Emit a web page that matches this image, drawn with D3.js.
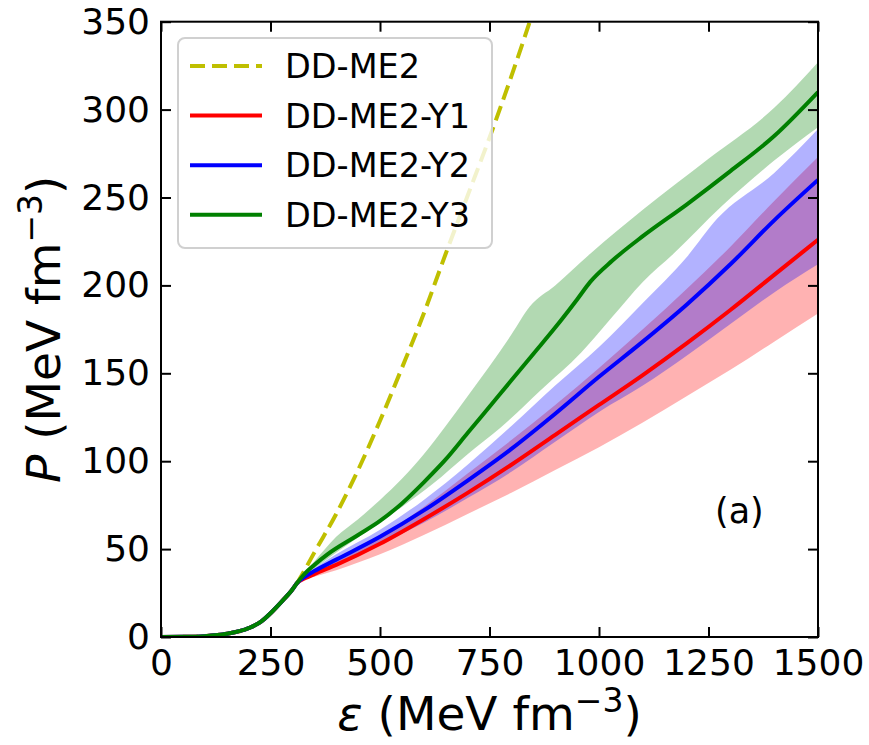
<!DOCTYPE html>
<html><head><meta charset="utf-8">
<script src="https://cdn.jsdelivr.net/npm/d3@7"></script>
<style>
body{margin:0;background:#fff}
text{font-family:"DejaVu Sans",sans-serif;fill:#000}
</style>
</head><body>
<svg id="chart" width="869" height="745"></svg>
<script>
// Energy density (MeV fm^-3) and pressure (MeV fm^-3) for each EOS
const lowEps = [0, 50, 100, 150, 200, 230, 250, 275, 300, 310];
const lowP   = [0, 0.1, 0.5, 1.8, 5, 9, 13.5, 20, 27, 30.5];

const me2Eps = [330, 350, 400, 450, 500, 550, 600, 650, 700, 750, 800, 850];
const me2P   = [39, 48, 70, 95, 123, 153, 184, 218, 251, 284, 319, 356];

const y1Eps   = [330, 350, 400, 500, 600, 700, 800, 900, 1000, 1100, 1200, 1300, 1400, 1500];
const y1P     = [33.5, 35.8, 41, 53, 67, 82, 98, 115, 132, 149, 167, 186, 206, 226];
const y1Upper = [34.5, 37.5, 43, 57, 74, 93, 112, 132, 153, 175, 198, 222, 248, 273];
const y1Lower = [32.8, 34.3, 38, 47, 58, 70, 82, 95, 108, 122, 137, 152, 168, 184];

const y2Eps   = [330, 350, 400, 500, 600, 700, 800, 900, 1000, 1100, 1200, 1300, 1400, 1500];
const y2P     = [34.5, 37.5, 44, 57, 72, 89, 107, 127, 148, 168, 189, 212, 237, 260];
const y2Lower = [33.8, 36.2, 42, 53, 65, 79, 94, 111, 128, 143, 160, 178, 196, 212];
const y2UpEps = [330, 350, 400, 500, 600, 700, 800, 900, 1000, 1100, 1200, 1270, 1400, 1500];
const y2Upper = [35.5, 39, 47, 61, 78, 98, 120, 143, 165, 190, 216, 238, 264, 289];

const y3Eps = [330, 350, 380, 450, 500, 550, 600, 650, 700, 750, 800, 850, 900, 950, 980, 1030, 1100, 1200, 1300, 1400, 1500];
const y3P   = [36.5, 41, 47, 58, 66, 76, 88, 101, 116, 131, 146, 161, 176, 192, 202, 214, 228, 246, 265, 285, 310];
const y3UpEps = [330, 350, 400, 450, 500, 550, 600, 650, 700, 750, 800, 842, 900, 980, 1100, 1250, 1400, 1500];
const y3Upper = [37.5, 43, 57, 67, 78, 90, 104, 120, 137, 154, 172, 188, 200, 218, 243, 272, 301, 327];
const y3LoEps = [330, 350, 400, 470, 550, 620, 700, 775, 865, 960, 1030, 1100, 1170, 1280, 1400, 1500];
const y3Lower = [35.5, 39, 48, 60, 74, 87, 104, 119, 140, 162, 182, 202, 218, 245, 271, 290];

const seriesNames = ["DD-ME2", "DD-ME2-Y1", "DD-ME2-Y2", "DD-ME2-Y3"];
const xTicks = [0, 250, 500, 750, 1000, 1250, 1500];
const yTicks = [0, 50, 100, 150, 200, 250, 300, 350];

const svg = d3.select("#chart");
const L = 161, R = 818, T = 21.7, B = 637;
const x = d3.scaleLinear().domain([0, 1500]).range([L, R]);
const y = d3.scaleLinear().domain([0, 350]).range([B, T]);

const pts = (es, ps) => es.map((e, i) => ({e, p: ps[i]}));
const withLow = (es, ps) => pts(lowEps, lowP).concat(pts(es, ps));
const forkStart = [{e: 290, p: 24}, {e: 300, p: 27}, {e: 310, p: 30.5}];
// band polygon: upper edge left->right, then lower edge right->left
const bandPath = (upE, up, loE, lo) => {
  const edge = d3.line().x(d => x(d.e)).y(d => y(d.p)).curve(d3.curveMonotoneX);
  const top = edge(forkStart.concat(pts(upE, up)));
  const bot = edge(forkStart.concat(pts(loE, lo)).reverse());
  return top + "L" + bot.slice(1) + "Z";
};

svg.append("defs").append("clipPath").attr("id", "plotclip")
  .append("rect").attr("x", L).attr("y", T).attr("width", R - L).attr("height", B - T);
const plot = svg.append("g").attr("clip-path", "url(#plotclip)");

const line = d3.line().x(d => x(d.e)).y(d => y(d.p)).curve(d3.curveMonotoneX);

// uncertainty bands
plot.append("path").attr("d", bandPath(y1Eps, y1Upper, y1Eps, y1Lower))
  .attr("fill", "rgba(255,0,0,0.3)");
plot.append("path").attr("d", bandPath(y2UpEps, y2Upper, y2Eps, y2Lower))
  .attr("fill", "rgba(0,0,255,0.3)");
plot.append("path").attr("d", bandPath(y3UpEps, y3Upper, y3LoEps, y3Lower))
  .attr("fill", "rgba(0,128,0,0.3)");

// central curves
const lw = 4;
plot.append("path").datum(withLow(me2Eps, me2P)).attr("d", line)
  .attr("fill", "none").attr("stroke", "#bfbf00").attr("stroke-width", 4)
  .attr("stroke-dasharray", "15,7");
plot.append("path").datum(withLow(y1Eps, y1P)).attr("d", line)
  .attr("fill", "none").attr("stroke", "#ff0000").attr("stroke-width", lw);
plot.append("path").datum(withLow(y2Eps, y2P)).attr("d", line)
  .attr("fill", "none").attr("stroke", "#0000ff").attr("stroke-width", lw);
plot.append("path").datum(withLow(y3Eps, y3P)).attr("d", line)
  .attr("fill", "none").attr("stroke", "#008000").attr("stroke-width", lw);

// axes with inward ticks on all four sides
const tickFont = 36;
const fmt = d3.format("d");
const gx = svg.append("g").attr("transform", `translate(0,${B})`)
  .call(d3.axisBottom(x).tickValues(xTicks).tickFormat(fmt).tickSizeInner(-10).tickSizeOuter(0).tickPadding(12));
const gy = svg.append("g").attr("transform", `translate(${L},0)`)
  .call(d3.axisLeft(y).tickValues(yTicks).tickFormat(fmt).tickSizeInner(-10).tickSizeOuter(0).tickPadding(11));
const gt = svg.append("g").attr("transform", `translate(0,${T})`)
  .call(d3.axisTop(x).tickValues(xTicks).tickSizeInner(-10).tickSizeOuter(0).tickFormat(""));
const gr = svg.append("g").attr("transform", `translate(${R},0)`)
  .call(d3.axisRight(y).tickValues(yTicks).tickSizeInner(-10).tickSizeOuter(0).tickFormat(""));
[gx, gy, gt, gr].forEach(g => {
  g.select(".domain").remove();
  g.selectAll(".tick line").attr("stroke", "#000").attr("stroke-width", 2);
  g.selectAll(".tick text").attr("font-size", tickFont).attr("font-family", "DejaVu Sans").attr("fill", "#000");
});
svg.append("rect").attr("x", L).attr("y", T).attr("width", R - L).attr("height", B - T)
  .attr("fill", "none").attr("stroke", "#000").attr("stroke-width", 2);

// axis titles
const xl = svg.append("text").attr("x", (L + R) / 2).attr("y", 730)
  .attr("text-anchor", "middle").attr("font-size", 47);
xl.append("tspan").attr("font-style", "italic").text("ε");
xl.append("tspan").text(" (MeV fm");
xl.append("tspan").attr("font-size", 33).attr("dy", -18).text("−3");
xl.append("tspan").attr("dy", 18).text(")");

const yl = svg.append("text").attr("transform", `translate(60,${(T + B) / 2}) rotate(-90)`)
  .attr("text-anchor", "middle").attr("font-size", 47);
yl.append("tspan").attr("font-style", "italic").text("P");
yl.append("tspan").text(" (MeV fm");
yl.append("tspan").attr("font-size", 33).attr("dy", -18).text("−3");
yl.append("tspan").attr("dy", 18).text(")");

// panel tag
svg.append("text").attr("x", 715).attr("y", 523).attr("font-size", 35).text("(a)");

// legend
const legStyles = [
  {color: "#bfbf00", dash: "15,7", w: 4},
  {color: "#ff0000", dash: null, w: lw},
  {color: "#0000ff", dash: null, w: lw},
  {color: "#008000", dash: null, w: lw}
];
const leg = svg.append("g");
leg.append("rect").attr("x", 178).attr("y", 38).attr("width", 314).attr("height", 210)
  .attr("rx", 7).attr("fill", "rgba(255,255,255,0.8)").attr("stroke", "#d0d0d0").attr("stroke-width", 2);
seriesNames.forEach((name, i) => {
  const cy = 66 + i * 49.6;
  leg.append("line").attr("x1", 190).attr("x2", 262).attr("y1", cy).attr("y2", cy)
    .attr("stroke", legStyles[i].color).attr("stroke-width", legStyles[i].w)
    .attr("stroke-dasharray", legStyles[i].dash);
  leg.append("text").attr("x", 285).attr("y", cy + 12).attr("font-size", 33.5).text(name);
});
</script>
</body></html>
